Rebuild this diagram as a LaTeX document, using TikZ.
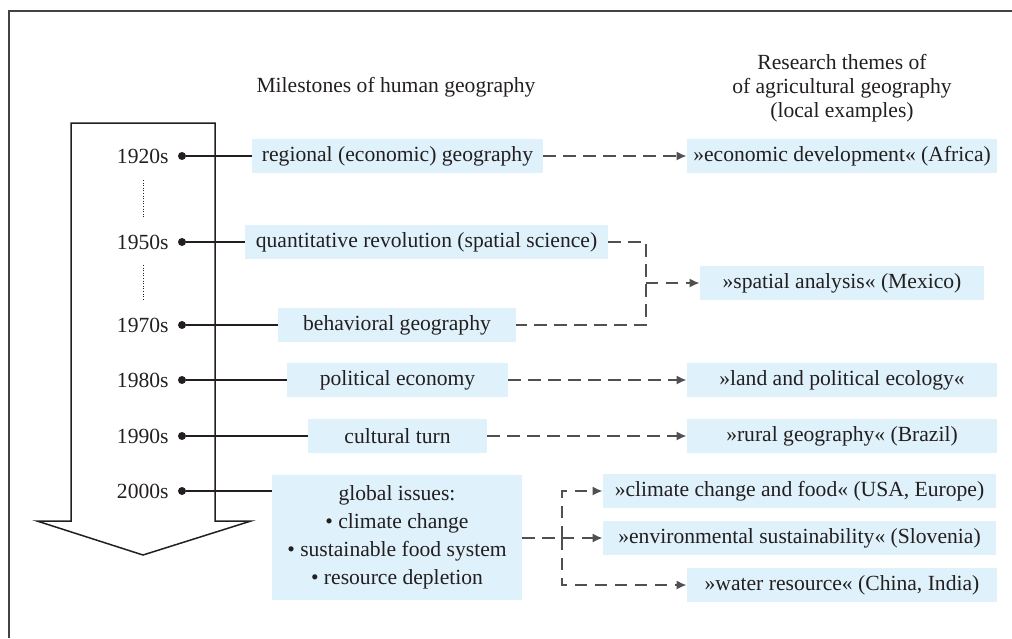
\documentclass[tikz,border=0pt]{standalone}
\usepackage{fontspec}
\setmainfont{Liberation Serif}
\usetikzlibrary{arrows.meta}
\definecolor{boxblue}{RGB}{223,241,250}
\definecolor{ink}{RGB}{35,31,32}
\definecolor{dashc}{RGB}{80,80,80}
\tikzset{
  txt/.style={font=\fontsize{10.8}{12}\selectfont, text=ink, inner sep=0pt},
  box/.style={txt, fill=boxblue, minimum height=17pt, align=center},
  dotn/.style={circle, fill=ink, inner sep=0pt, minimum size=4pt},
  yearlbl/.style={txt, anchor=east},
  solidcon/.style={draw=ink, line width=1.4pt},
  dashcon/.style={draw=dashc, line width=1.1pt, dash pattern=on 6.2pt off 3.8pt},
  dasharrow/.style={dashcon, -{Latex[length=5pt,width=4.6pt]}},
  framel/.style={draw=ink!85, line width=1.1pt},
  bigarrow/.style={draw=ink, line width=0.75pt},
  dotline/.style={draw=ink, line width=0.5pt, dash pattern=on 0.5pt off 0.8pt}
}
\begin{document}
\begin{tikzpicture}[x=0.5pt,y=-0.5pt]
\useasboundingbox (0,0) rectangle (1012,638);
% frame
\draw[framel] (9,638) -- (9,11) -- (1012,11);
% headings
\node[txt] (h1) at (396,87) {Milestones of human geography};
\node[txt, align=center] (h2) at (842,88) {Research themes of\\of agricultural geography\\(local examples)};
% big arrow
\draw[bigarrow] (71,123) -- (215,123) -- (215,521) -- (251,521) -- (143,555) -- (37,521) -- (71,521) -- cycle;
% dotted separators
\draw[dotline] (143,180) -- (143,217);
\draw[dotline] (143,265) -- (143,300);
% years and dots
\foreach \n/\y/\lab in {1/156/1920s, 2/242/1950s, 3/325/1970s, 4/380/1980s, 5/436/1990s, 6/491/2000s}{
  \node[yearlbl] (y\n) at (169,\y) {\lab};
  \node[dotn] (d\n) at (182,\y) {};
}
% milestone boxes
\node[box, minimum width=145.5pt] (reg) at (397.5,156) {regional (economic) geography};
\node[box, minimum width=181.5pt] (quant) at (426.5,242) {quantitative revolution (spatial science)};
\node[box, minimum width=119pt] (behav) at (397,325) {behavioral geography};
\node[box, minimum width=110.5pt] (pol) at (397.5,380) {political economy};
\node[box, minimum width=89.5pt] (cult) at (397.5,436) {cultural turn};
\node[box, minimum width=125pt, minimum height=62.5pt, font=\fontsize{10.8}{14}\selectfont] (glob) at (397,537) {global issues:\\\textbullet\ climate change\\\textbullet\ sustainable food system\\\textbullet\ resource depletion};
% theme boxes
\node[box, minimum width=155pt] (econ) at (842,156) {»economic development« (Africa)};
\node[box, minimum width=142pt] (spat) at (842,283) {»spatial analysis« (Mexico)};
\node[box, minimum width=155pt] (land) at (842,380) {»land and political ecology«};
\node[box, minimum width=155pt] (rural) at (842,436) {»rural geography« (Brazil)};
\node[box, minimum width=196.5pt] (clim) at (799.5,491) {»climate change and food« (USA, Europe)};
\node[box, minimum width=196.5pt] (env) at (799.5,538) {»environmental sustainability« (Slovenia)};
\node[box, minimum width=155pt] (water) at (842,585) {»water resource« (China, India)};
% solid connectors
\draw[solidcon] (d1) -- (reg.west);
\draw[solidcon] (d2) -- (quant.west);
\draw[solidcon] (d3) -- (behav.west);
\draw[solidcon] (d4) -- (pol.west);
\draw[solidcon] (d5) -- (cult.west);
\draw[solidcon] (d6) -- (d6 -| glob.west);
% dashed connectors
\draw[dasharrow] (reg.east) -- (econ.west);
\coordinate (qj) at (646,283);
\draw[dashcon] (quant.east) -| (qj) |- (behav.east);
\draw[dasharrow] (qj) -- (spat.west);
\draw[dasharrow] (pol.east) -- (land.west);
\draw[dasharrow] (cult.east) -- (rural.west);
\coordinate (gj) at (562,538);
\draw[dashcon] (glob.east |- gj) -- (gj);
\draw[dasharrow] (gj) |- (clim.west);
\draw[dasharrow] (gj) -- (env.west);
\draw[dasharrow] (gj) |- (water.west);
\end{tikzpicture}
\end{document}
